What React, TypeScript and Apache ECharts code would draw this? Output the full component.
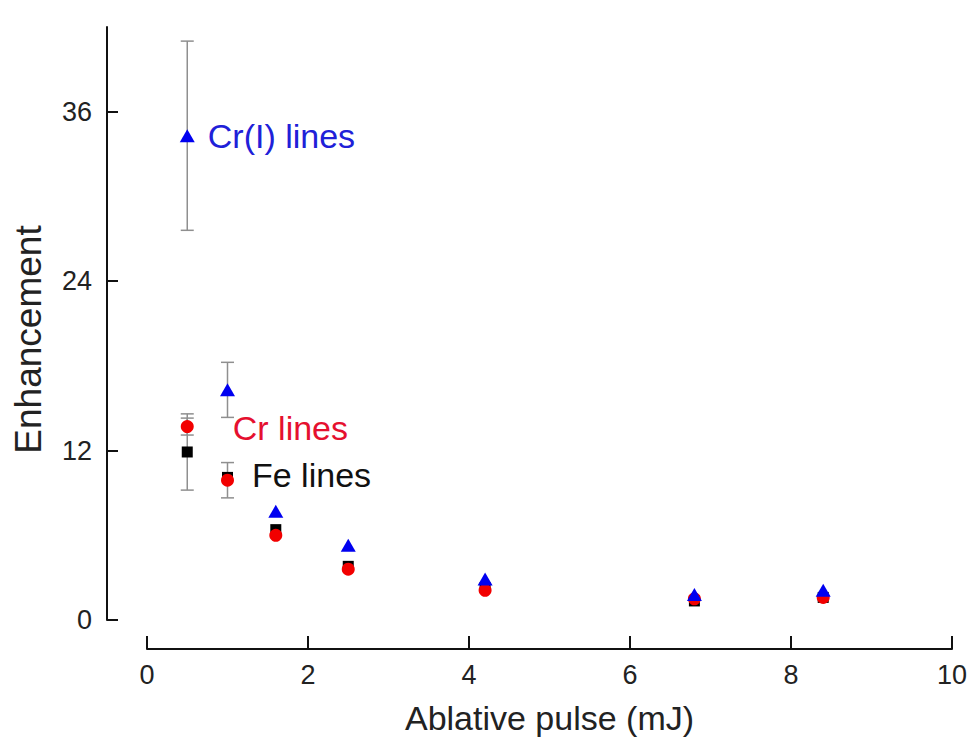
import React, { useEffect, useRef } from "react";
import * as echarts from "echarts";

const xValues = [0.5, 1.0, 1.6, 2.5, 4.2, 6.8, 8.4];
const crIValues = [34.3, 16.3, 7.7, 5.3, 2.9, 1.8, 2.1];
const crIErr = [6.7, 1.95, 0, 0, 0, 0, 0];
const crValues = [13.7, 9.9, 6.0, 3.6, 2.1, 1.5, 1.6];
const crErr = [0.6, 1.25, 0, 0, 0, 0, 0];
const feValues = [11.9, 10.1, 6.4, 3.8, 2.3, 1.35, 1.6];
const feErr = [2.7, 0, 0, 0, 0, 0, 0];
const yTicks = [0, 12, 24, 36];
const seriesNames = ["Cr(I) lines", "Cr lines", "Fe lines"];

const FONT = "'Liberation Sans', Arial, sans-serif";

function errData(vals: number[], errs: number[]) {
  const out: number[][] = [];
  vals.forEach((v, i) => {
    if (errs[i] > 0) out.push([xValues[i], v - errs[i], v + errs[i]]);
  });
  return out;
}

export default function App() {
  const ref = useRef<HTMLDivElement>(null);
  useEffect(() => {
    if (!ref.current) return;
    const chart = echarts.init(ref.current, undefined, { renderer: "svg" });
    const errorSeries = (name: string, vals: number[], errs: number[]) => ({
      type: "custom",
      name,
      z: 1,
      data: errData(vals, errs),
      encode: { x: 0, y: [1, 2] },
      renderItem: (params: any, api: any) => {
        const x = api.value(0);
        const lo = api.value(1);
        const hi = api.value(2);
        const p1 = api.coord([x, hi]);
        const p2 = api.coord([x, lo]);
        const w = 6.5;
        const style = { stroke: "#8f8f8f", lineWidth: 1.5 };
        return {
          type: "group",
          children: [
            { type: "line", shape: { x1: p1[0], y1: p1[1], x2: p2[0], y2: p2[1] }, style },
            { type: "line", shape: { x1: p1[0] - w, y1: p1[1], x2: p1[0] + w, y2: p1[1] }, style },
            { type: "line", shape: { x1: p2[0] - w, y1: p2[1], x2: p2[0] + w, y2: p2[1] }, style },
          ],
        };
      },
    });
    const pts = (vals: number[]) => xValues.map((x, i) => [x, vals[i]]);
    const mkLabel = (text: string, offset: number[], color: string) => ({
      show: true,
      position: "right",
      distance: 0,
      offset,
      formatter: text,
      fontSize: 34,
      fontFamily: FONT,
      color,
      opacity: 1,
    });
    const feData: any[] = pts(feValues);
    feData[1] = { value: feData[1], label: mkLabel(seriesNames[2], [19, -2], "#111111") };
    const crData: any[] = pts(crValues);
    crData[0] = { value: crData[0], label: mkLabel(seriesNames[1], [39, 1], "#e5102f") };
    const crIData: any[] = pts(crIValues);
    crIData[0] = { value: crIData[0], label: mkLabel(seriesNames[0], [13, 0], "#2020d8") };
    chart.setOption({
      animation: false,
      backgroundColor: "#ffffff",
      grid: { left: 147, right: 20, top: 27, bottom: 127 },
      xAxis: {
        type: "value",
        min: 0,
        max: 10,
        interval: 2,
        offset: 29,
        splitLine: { show: false },
        axisLine: { show: true, onZero: false, lineStyle: { color: "#111", width: 2 } },
        axisTick: { show: true, inside: true, length: 13, lineStyle: { color: "#111", width: 2 } },
        axisLabel: { fontSize: 27, fontFamily: FONT, color: "#222", margin: 12 },
        name: "Ablative pulse (mJ)",
        nameLocation: "middle",
        nameGap: 52,
        nameTextStyle: { fontSize: 34, fontFamily: FONT, color: "#222" },
      },
      yAxis: {
        type: "value",
        min: 0,
        max: 42,
        interval: 6,
        offset: 40,
        splitLine: { show: false },
        axisLine: { show: true, onZero: false, lineStyle: { color: "#111", width: 2 } },
        axisTick: { show: true, inside: true, length: 11, customValues: yTicks, lineStyle: { color: "#111", width: 2 } },
        axisLabel: { fontSize: 27, fontFamily: FONT, color: "#222", margin: 15, customValues: yTicks },
        name: "Enhancement",
        nameLocation: "middle",
        nameGap: 60,
        nameTextStyle: { fontSize: 37, fontFamily: FONT, color: "#222", padding: [0, 32, 0, 0] },
      },
      series: [
        errorSeries("Fe err", feValues, feErr),
        errorSeries("Cr err", crValues, crErr),
        errorSeries("Cr(I) err", crIValues, crIErr),
        {
          type: "scatter",
          name: seriesNames[2],
          z: 2,
          symbol: "rect",
          symbolSize: 11,
          itemStyle: { color: "#000000", opacity: 1 },
          data: feData,
        },
        {
          type: "scatter",
          name: seriesNames[1],
          z: 3,
          symbol: "circle",
          symbolSize: 13,
          itemStyle: { color: "#f20000", opacity: 1 },
          data: crData,
        },
        {
          type: "scatter",
          name: seriesNames[0],
          z: 4,
          symbol: "triangle",
          symbolSize: [15, 13],
          itemStyle: { color: "#0000f0", opacity: 1 },
          data: crIData,
        },
      ],
    });
    return () => chart.dispose();
  }, []);
  return (
    <div
      ref={ref}
      style={{ position: "fixed", left: 0, top: 0, width: 972, height: 747 }}
    />
  );
}
